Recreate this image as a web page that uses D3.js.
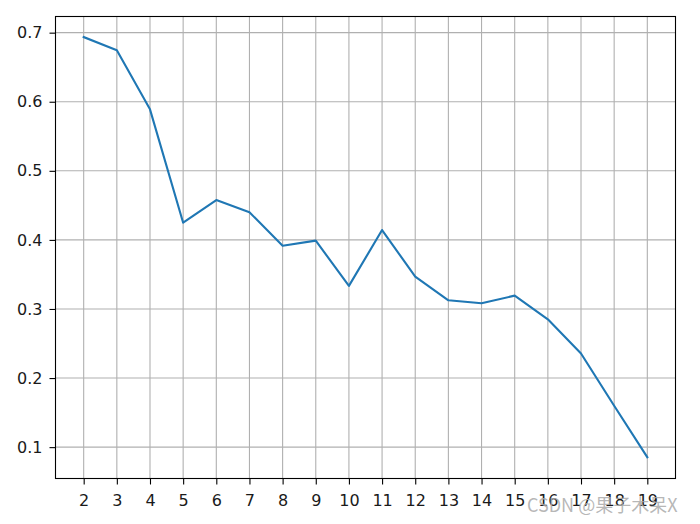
<!DOCTYPE html>
<html><head><meta charset="utf-8">
<script src="https://cdn.jsdelivr.net/npm/d3@7"></script>
<style>body{margin:0;background:#fff}svg{display:block}</style>
</head><body>
<svg id="chart" width="700" height="524"></svg>
<script>
const xValues = [2,3,4,5,6,7,8,9,10,11,12,13,14,15,16,17,18,19];
const yValues = [0.6936,0.6744,0.589,0.4249,0.4577,0.440,0.3916,0.3989,0.3334,0.4143,0.3468,0.3126,0.3083,0.3193,0.285,0.2355,0.160,0.0853];
const yTicks = [0.1,0.2,0.3,0.4,0.5,0.6,0.7];
const watermark = "CSDN @果子木呆X";

const svg = d3.select("#chart");
const L = 55.5, R = 675.5, T = 16.5, B = 478.5;
const x = d3.scaleLinear().domain([1.15, 19.85]).range([L, R]);
const y = d3.scaleLinear().domain([0.0546, 0.7234]).range([B, T]);

// grid
svg.append("g").selectAll("line").data(xValues).join("line")
  .attr("x1", d => x(d)).attr("x2", d => x(d)).attr("y1", T).attr("y2", B)
  .attr("stroke", "#b0b0b0").attr("stroke-width", 1.1);
svg.append("g").selectAll("line").data(yTicks).join("line")
  .attr("y1", d => y(d)).attr("y2", d => y(d)).attr("x1", L).attr("x2", R)
  .attr("stroke", "#b0b0b0").attr("stroke-width", 1.1);

// line
svg.append("path").datum(xValues.map((d, i) => [d, yValues[i]]))
  .attr("fill", "none").attr("stroke", "#1f77b4").attr("stroke-width", 2.1)
  .attr("stroke-linejoin", "round").attr("stroke-linecap", "square")
  .attr("d", d3.line().x(d => x(d[0])).y(d => y(d[1])));

// axes
const xAxis = d3.axisBottom(x).tickValues(xValues).tickFormat(d3.format("d")).tickSizeOuter(0).tickSize(6).tickPadding(10);
const yAxis = d3.axisLeft(y).tickValues(yTicks).tickFormat(d3.format(".1f")).tickSizeOuter(0).tickSize(6).tickPadding(7);
const gx = svg.append("g").attr("transform", `translate(0,${B})`).call(xAxis);
const gy = svg.append("g").attr("transform", `translate(${L},0)`).call(yAxis);
[gx, gy].forEach(g => {
  g.select(".domain").remove();
  g.selectAll(".tick line").attr("stroke", "#000").attr("stroke-width", 1.1);
  g.selectAll(".tick text").attr("fill", "#1a1a1a").style("font-family", "DejaVu Sans").style("font-size", "16px");
});

// frame
svg.append("rect").attr("x", L).attr("y", T).attr("width", R - L).attr("height", B - T)
  .attr("fill", "none").attr("stroke", "#000").attr("stroke-width", 1.1);

// watermark
svg.append("text").attr("x", 527).attr("y", 512).text(watermark)
  .attr("fill", "#aaaaaa").attr("fill-opacity", 0.85)
  .style("font-family", "'Noto Sans CJK SC', 'Noto Sans'").style("font-size", "18px");
</script>
</body></html>
